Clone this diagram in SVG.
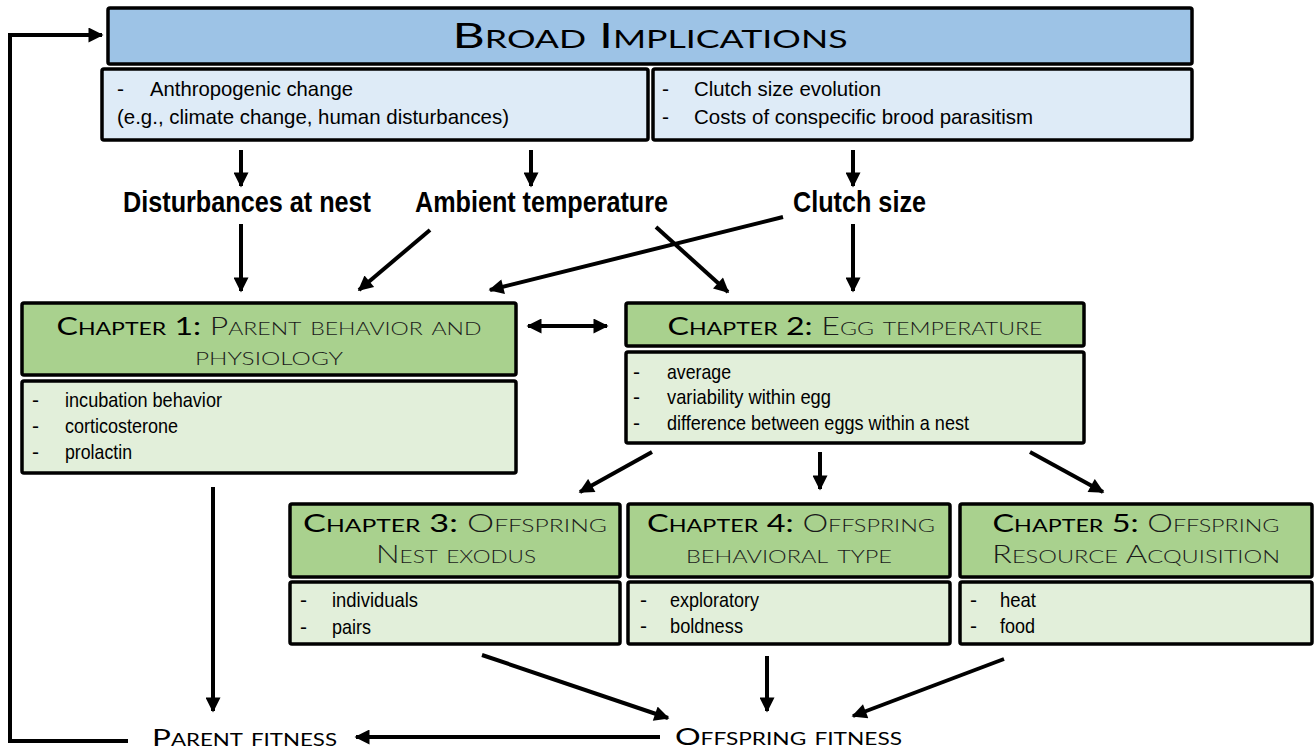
<svg xmlns="http://www.w3.org/2000/svg" width="1315" height="750" viewBox="0 0 1315 750">
<style>
.bx{stroke:#000;stroke-width:3.5;}
.blue{fill:#9dc3e6;}
.lblue{fill:#deebf7;}
.green{fill:#a9d18e;}
.lgreen{fill:#e2efda;}
.body{font-family:"Liberation Sans",Arial,sans-serif;font-size:21px;fill:#000;}
.lab{font-family:"Liberation Sans",Arial,sans-serif;font-size:30px;font-weight:bold;fill:#000;}
.sc{font-family:Lato,"Open Sans",sans-serif;font-variant:small-caps;fill:#000;}
.ch{font-family:Lato,"Open Sans",sans-serif;font-variant:small-caps;font-size:25px;}
.chl{font-weight:300;fill:#1a1a1a;}
.chb{font-weight:400;fill:#000;}
.ln{stroke:#000;stroke-width:4;fill:none;}
</style>
<defs>
<marker id="ah" viewBox="0 0 10 10" refX="9" refY="5" markerWidth="17" markerHeight="15" markerUnits="userSpaceOnUse" orient="auto-start-reverse">
<path d="M0,0 L10,5 L0,10 z" fill="#000"/>
</marker>
</defs>
<rect width="1315" height="750" fill="#fff"/>

<g id="broad">
<rect class="bx blue" x="108" y="8" width="1084" height="56" rx="2"/>
<text class="sc" x="650" y="48" font-size="35" text-anchor="middle" textLength="395" lengthAdjust="spacingAndGlyphs">Broad Implications</text>
</g>
<g id="broad-left">
<rect class="bx lblue" x="102" y="69" width="546" height="71" rx="2"/>
<text class="body" x="117" y="96">-</text>
<text class="body" x="150" y="96" textLength="203" lengthAdjust="spacingAndGlyphs">Anthropogenic change</text>
<text class="body" x="117" y="124" textLength="392" lengthAdjust="spacingAndGlyphs">(e.g., climate change, human disturbances)</text>
</g>
<g id="broad-right">
<rect class="bx lblue" x="653" y="69" width="539" height="71" rx="2"/>
<text class="body" x="662" y="96">-</text>
<text class="body" x="694" y="96" textLength="187" lengthAdjust="spacingAndGlyphs">Clutch size evolution</text>
<text class="body" x="662" y="124">-</text>
<text class="body" x="694" y="124" textLength="339" lengthAdjust="spacingAndGlyphs">Costs of conspecific brood parasitism</text>
</g>

<g id="disturbances"><text class="lab" x="123" y="212" textLength="248" lengthAdjust="spacingAndGlyphs">Disturbances at nest</text></g>
<g id="ambient"><text class="lab" x="415" y="212" textLength="253" lengthAdjust="spacingAndGlyphs">Ambient temperature</text></g>
<g id="clutch"><text class="lab" x="793" y="212" textLength="133" lengthAdjust="spacingAndGlyphs">Clutch size</text></g>

<g id="chapter1">
<rect class="bx green" x="22" y="303" width="494" height="72" rx="2"/>
<text class="ch" x="269" y="335" text-anchor="middle" textLength="425" lengthAdjust="spacingAndGlyphs"><tspan class="chb">Chapter 1:</tspan><tspan class="chl"> Parent behavior and</tspan></text>
<text class="ch chl" x="269" y="365" text-anchor="middle" textLength="148" lengthAdjust="spacingAndGlyphs">physiology</text>
</g>
<g id="chapter1-items">
<rect class="bx lgreen" x="22" y="381" width="494" height="92" rx="2"/>
<text class="body" x="32" y="407">-</text><text class="body" x="65" y="407" textLength="157" lengthAdjust="spacingAndGlyphs">incubation behavior</text>
<text class="body" x="32" y="433">-</text><text class="body" x="65" y="433" textLength="113" lengthAdjust="spacingAndGlyphs">corticosterone</text>
<text class="body" x="32" y="459">-</text><text class="body" x="65" y="459" textLength="67" lengthAdjust="spacingAndGlyphs">prolactin</text>
</g>

<g id="chapter2">
<rect class="bx green" x="626" y="303" width="458" height="43" rx="2"/>
<text class="ch" x="855" y="335" text-anchor="middle" textLength="375" lengthAdjust="spacingAndGlyphs"><tspan class="chb">Chapter 2:</tspan><tspan class="chl"> Egg temperature</tspan></text>
</g>
<g id="chapter2-items">
<rect class="bx lgreen" x="626" y="352" width="458" height="91" rx="2"/>
<text class="body" x="633" y="379">-</text><text class="body" x="667" y="379" textLength="64" lengthAdjust="spacingAndGlyphs">average</text>
<text class="body" x="633" y="404">-</text><text class="body" x="667" y="404" textLength="164" lengthAdjust="spacingAndGlyphs">variability within egg</text>
<text class="body" x="633" y="430">-</text><text class="body" x="667" y="430" textLength="302" lengthAdjust="spacingAndGlyphs">difference between eggs within a nest</text>
</g>

<g id="chapter3">
<rect class="bx green" x="290" y="504" width="330" height="73" rx="2"/>
<text class="ch" x="455" y="532" text-anchor="middle" textLength="304" lengthAdjust="spacingAndGlyphs"><tspan class="chb">Chapter 3:</tspan><tspan class="chl"> Offspring</tspan></text>
<text class="ch chl" x="456" y="563" text-anchor="middle" textLength="160" lengthAdjust="spacingAndGlyphs">Nest exodus</text>
</g>
<g id="chapter3-items">
<rect class="bx lgreen" x="290" y="582" width="330" height="62" rx="2"/>
<text class="body" x="300" y="607">-</text><text class="body" x="332" y="607" textLength="86" lengthAdjust="spacingAndGlyphs">individuals</text>
<text class="body" x="300" y="634">-</text><text class="body" x="332" y="634" textLength="39" lengthAdjust="spacingAndGlyphs">pairs</text>
</g>

<g id="chapter4">
<rect class="bx green" x="628" y="504" width="322" height="73" rx="2"/>
<text class="ch" x="791" y="532" text-anchor="middle" textLength="288" lengthAdjust="spacingAndGlyphs"><tspan class="chb">Chapter 4:</tspan><tspan class="chl"> Offspring</tspan></text>
<text class="ch chl" x="789" y="563" text-anchor="middle" textLength="206" lengthAdjust="spacingAndGlyphs">behavioral type</text>
</g>
<g id="chapter4-items">
<rect class="bx lgreen" x="628" y="582" width="322" height="62" rx="2"/>
<text class="body" x="640" y="607">-</text><text class="body" x="670" y="607" textLength="89" lengthAdjust="spacingAndGlyphs">exploratory</text>
<text class="body" x="640" y="633">-</text><text class="body" x="670" y="633" textLength="73" lengthAdjust="spacingAndGlyphs">boldness</text>
</g>

<g id="chapter5">
<rect class="bx green" x="960" y="504" width="352" height="73" rx="2"/>
<text class="ch" x="1136" y="532" text-anchor="middle" textLength="287" lengthAdjust="spacingAndGlyphs"><tspan class="chb">Chapter 5:</tspan><tspan class="chl"> Offspring</tspan></text>
<text class="ch chl" x="1136" y="563" text-anchor="middle" textLength="288" lengthAdjust="spacingAndGlyphs">Resource Acquisition</text>
</g>
<g id="chapter5-items">
<rect class="bx lgreen" x="960" y="582" width="352" height="62" rx="2"/>
<text class="body" x="970" y="607">-</text><text class="body" x="1000" y="607" textLength="36" lengthAdjust="spacingAndGlyphs">heat</text>
<text class="body" x="970" y="633">-</text><text class="body" x="1000" y="633" textLength="35" lengthAdjust="spacingAndGlyphs">food</text>
</g>

<g id="parent-fitness"><text class="sc" x="152" y="746" font-size="24" textLength="185" lengthAdjust="spacingAndGlyphs">Parent fitness</text></g>
<g id="offspring-fitness"><text class="sc" x="675" y="745" font-size="24" textLength="227" lengthAdjust="spacingAndGlyphs">Offspring fitness</text></g>

<g id="connectors">
<line class="ln" x1="241" y1="150" x2="241" y2="186" marker-end="url(#ah)"/>
<line class="ln" x1="531" y1="150" x2="531" y2="186" marker-end="url(#ah)"/>
<line class="ln" x1="853" y1="150" x2="853" y2="186" marker-end="url(#ah)"/>
<line class="ln" x1="241" y1="224" x2="241" y2="291" marker-end="url(#ah)"/>
<line class="ln" x1="430" y1="230" x2="359" y2="290" marker-end="url(#ah)"/>
<line class="ln" x1="783" y1="217" x2="490" y2="290" marker-end="url(#ah)"/>
<line class="ln" x1="656" y1="227" x2="728" y2="292" marker-end="url(#ah)"/>
<line class="ln" x1="853" y1="224" x2="853" y2="291" marker-end="url(#ah)"/>
<line class="ln" x1="528" y1="326" x2="607" y2="326" marker-start="url(#ah)" marker-end="url(#ah)"/>
<line class="ln" x1="652" y1="452" x2="580" y2="492" marker-end="url(#ah)"/>
<line class="ln" x1="820" y1="452" x2="820" y2="489" marker-end="url(#ah)"/>
<line class="ln" x1="1030" y1="452" x2="1103" y2="492" marker-end="url(#ah)"/>
<line class="ln" x1="213" y1="487" x2="213" y2="711" marker-end="url(#ah)"/>
<line class="ln" x1="482" y1="655" x2="668" y2="718" marker-end="url(#ah)"/>
<line class="ln" x1="767" y1="656" x2="767" y2="711" marker-end="url(#ah)"/>
<line class="ln" x1="1004" y1="659" x2="853" y2="716" marker-end="url(#ah)"/>
<line class="ln" x1="660" y1="737" x2="356" y2="737" marker-end="url(#ah)"/>
<polyline class="ln" points="128,741 10,741 10,35 102,35" marker-end="url(#ah)"/>
</g>
</svg>
